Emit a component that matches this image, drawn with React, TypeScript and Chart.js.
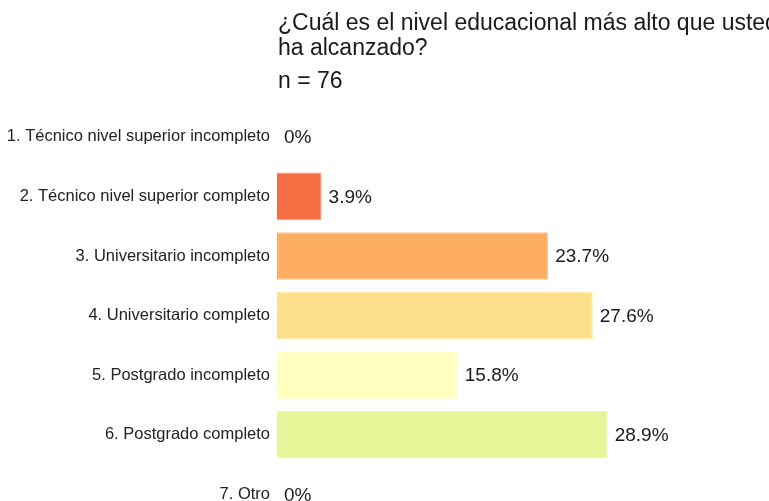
import React, { useEffect, useRef } from "react";
import { Chart, registerables } from "chart.js";

Chart.register(...registerables);

const titleLines = [
  "¿Cuál es el nivel educacional más alto que usted",
  "ha alcanzado?",
];
const subtitleText = "n = 76";

const categories = [
  "1. Técnico nivel superior incompleto",
  "2. Técnico nivel superior completo",
  "3. Universitario incompleto",
  "4. Universitario completo",
  "5. Postgrado incompleto",
  "6. Postgrado completo",
  "7. Otro",
];
const values = [0, 3.9, 23.7, 27.6, 15.8, 28.9, 0];
const valueLabels = ["0%", "3.9%", "23.7%", "27.6%", "15.8%", "28.9%", "0%"];
const barColors = [
  "#d73027",
  "#f46d43",
  "#fdae61",
  "#fee08b",
  "#ffffbf",
  "#e6f598",
  "#abdda4",
];
const borderColors = [
  "rgba(215,48,39,0.6)",
  "rgba(248,150,120,1)",
  "rgba(254,200,150,1)",
  "rgba(255,234,170,1)",
  "rgba(255,255,215,1)",
  "rgba(238,249,185,1)",
  "rgba(200,235,195,1)",
];

const FONT = "'Liberation Sans', Arial, Helvetica, sans-serif";

const titlePlugin = {
  id: "leftTitle",
  afterDraw(chart: any) {
    const { ctx, chartArea } = chart;
    ctx.save();
    ctx.fillStyle = "#1a1a1a";
    ctx.textAlign = "left";
    ctx.textBaseline = "alphabetic";
    ctx.font = `23px ${FONT}`;
    const x = chartArea.left + 1;
    ctx.fillText(titleLines[0], x, 30);
    ctx.fillText(titleLines[1], x, 55);
    ctx.fillText(subtitleText, x, 88);
    ctx.restore();
  },
};

const valuePlugin = {
  id: "valueLabels",
  afterDatasetsDraw(chart: any) {
    const { ctx } = chart;
    const meta = chart.getDatasetMeta(0);
    ctx.save();
    ctx.fillStyle = "#1a1a1a";
    ctx.font = `19px ${FONT}`;
    ctx.textAlign = "left";
    ctx.textBaseline = "middle";
    meta.data.forEach((bar: any, i: number) => {
      ctx.fillText(valueLabels[i], bar.x + 7, bar.y + 1);
    });
    ctx.restore();
  },
};

export default function App() {
  const ref = useRef<HTMLCanvasElement | null>(null);
  useEffect(() => {
    if (!ref.current) return;
    const chart = new Chart(ref.current, {
      type: "bar",
      data: {
        labels: categories,
        datasets: [
          {
            data: values,
            backgroundColor: barColors,
            borderColor: borderColors,
            borderWidth: 1,
            barPercentage: 0.8,
            categoryPercentage: 1.0,
          },
        ],
      },
      options: {
        indexAxis: "y",
        animation: false,
        responsive: false,
        maintainAspectRatio: false,
        devicePixelRatio: 1,
        layout: { padding: { top: 107, left: 0, right: 0, bottom: 0 } },
        plugins: {
          legend: { display: false },
          title: { display: false },
          tooltip: { enabled: false },
        },
        scales: {
          x: {
            display: false,
            min: 0,
            max: 43,
            grid: { display: false },
          },
          y: {
            grid: { display: false, drawTicks: false },
            border: { display: false },
            ticks: {
              color: "#222",
              padding: 7,
              font: { family: FONT, size: 16.5 },
            },
            afterFit(scale: any) {
              scale.width = 277;
            },
          },
        },
      },
      plugins: [titlePlugin, valuePlugin],
    });
    return () => chart.destroy();
  }, []);
  return (
    <div
      style={{
        position: "fixed",
        left: 0,
        top: 0,
        width: 769,
        height: 541,
        overflow: "hidden",
        background: "#fff",
      }}
    >
      <canvas ref={ref} width={769} height={541} style={{ display: "block" }} />
    </div>
  );
}
